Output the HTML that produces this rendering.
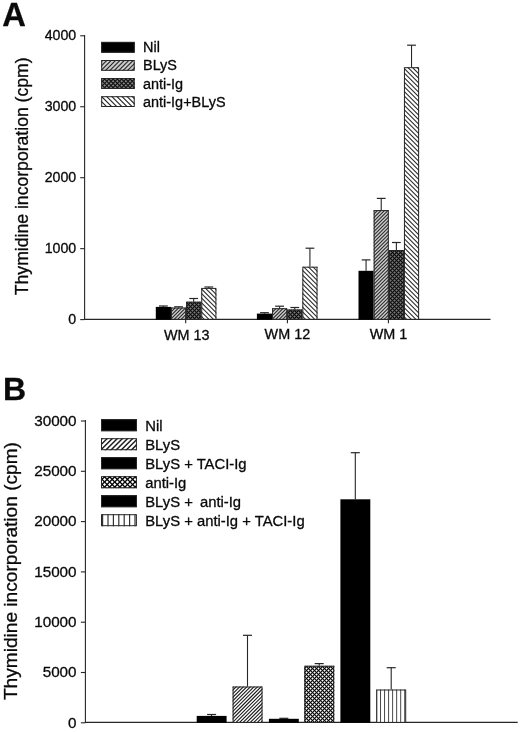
<!DOCTYPE html>
<html lang="en"><head><meta charset="utf-8"><title>Thymidine incorporation</title>
<style>html,body{margin:0;padding:0;background:#fff}svg{display:block}text{font-family:"Liberation Sans", Arial, Helvetica, sans-serif;fill:#0a0a0a;stroke:#0a0a0a;stroke-width:0.3px}</style></head><body>
<svg width="520" height="732" viewBox="0 0 520 732">
<rect width="520" height="732" fill="#fff"/>
<text x="2.2" y="25.8" font-size="32.7" font-weight="bold">A</text>
<line x1="84.6" y1="35.0" x2="84.6" y2="319.8" stroke="#262626" stroke-width="1.1"/>
<line x1="84.1" y1="319.3" x2="490.5" y2="319.3" stroke="#262626" stroke-width="1.2"/>
<line x1="80.2" y1="319.6" x2="84.6" y2="319.6" stroke="#262626" stroke-width="1.1"/>
<text x="76.2" y="324.0" font-size="14.2" text-anchor="end">0</text>
<line x1="80.2" y1="248.65" x2="84.6" y2="248.65" stroke="#262626" stroke-width="1.1"/>
<text x="76.2" y="253.05" font-size="14.2" text-anchor="end">1000</text>
<line x1="80.2" y1="177.7" x2="84.6" y2="177.7" stroke="#262626" stroke-width="1.1"/>
<text x="76.2" y="182.1" font-size="14.2" text-anchor="end">2000</text>
<line x1="80.2" y1="106.75" x2="84.6" y2="106.75" stroke="#262626" stroke-width="1.1"/>
<text x="76.2" y="111.15" font-size="14.2" text-anchor="end">3000</text>
<line x1="80.2" y1="35.8" x2="84.6" y2="35.8" stroke="#262626" stroke-width="1.1"/>
<text x="76.2" y="40.2" font-size="14.2" text-anchor="end">4000</text>
<text transform="translate(27.5,295.2) rotate(-90)" font-size="17.62">Thymidine incorporation (cpm)</text>
<rect x="101.2" y="41.9" width="33.5" height="10.8" fill="#000"/>
<rect x="101.7" y="42.4" width="32.5" height="9.8" fill="none" stroke="#262626" stroke-width="1"/>
<text x="143.0" y="51.7" font-size="14.45">Nil</text>
<svg x="101.2" y="60.0" width="33.5" height="10.8">
<rect width="33.5" height="10.8" fill="#cdcdcd"/>
<path d="M-1.8,-1L-1,-1.8M2.6,-1L-1,2.6M7.0,-1L-1,7.0M11.4,-1L-1,11.4M15.8,-1L-1,15.8M20.2,-1L-1,20.2M24.6,-1L-1,24.6M29.0,-1L-1,29.0M33.4,-1L-1,33.4M37.8,-1L-1,37.8M42.2,-1L-1,42.2M46.6,-1L-1,46.6" stroke="#2c2c2c" stroke-width="1.15" fill="none"/>
</svg>
<rect x="101.7" y="60.5" width="32.5" height="9.8" fill="none" stroke="#262626" stroke-width="1"/>
<text x="143.0" y="70.4" font-size="14.45">BLyS</text>
<svg x="101.2" y="78.1" width="33.5" height="10.8">
<rect width="33.5" height="10.8" fill="#888888"/>
<path d="M1.2,-1L-1,1.2M5.45,-1L-1,5.45M9.7,-1L-1,9.7M13.95,-1L-1,13.95M18.2,-1L-1,18.2M22.45,-1L-1,22.45M26.7,-1L-1,26.7M30.95,-1L-1,30.95M35.2,-1L-1,35.2M39.45,-1L-1,39.45M43.7,-1L-1,43.7M47.95,-1L-1,47.95" stroke="#141414" stroke-width="1.2" fill="none"/>
<path d="M-19.85,-1L-7.05,11.8M-15.6,-1L-2.8,11.8M-11.35,-1L1.45,11.8M-7.1,-1L5.7,11.8M-2.85,-1L9.95,11.8M1.4,-1L14.2,11.8M5.65,-1L18.45,11.8M9.9,-1L22.7,11.8M14.15,-1L26.95,11.8M18.4,-1L31.2,11.8M22.65,-1L35.45,11.8M26.9,-1L39.7,11.8M31.15,-1L43.95,11.8M35.4,-1L48.2,11.8" stroke="#141414" stroke-width="1.2" fill="none"/>
</svg>
<rect x="101.7" y="78.6" width="32.5" height="9.8" fill="none" stroke="#262626" stroke-width="1"/>
<text x="143.0" y="88.7" font-size="14.45">anti-Ig</text>
<svg x="101.2" y="96.2" width="33.5" height="10.8">
<rect width="33.5" height="10.8" fill="#ffffff"/>
<path d="M-21.3,-1L-8.5,11.8M-16.2,-1L-3.4,11.8M-11.1,-1L1.7,11.8M-6.0,-1L6.8,11.8M-0.9,-1L11.9,11.8M4.2,-1L17.0,11.8M9.3,-1L22.1,11.8M14.4,-1L27.2,11.8M19.5,-1L32.3,11.8M24.6,-1L37.4,11.8M29.7,-1L42.5,11.8M34.8,-1L47.6,11.8" stroke="#262626" stroke-width="1.12" fill="none"/>
</svg>
<rect x="101.7" y="96.7" width="32.5" height="9.8" fill="none" stroke="#262626" stroke-width="1"/>
<text x="143.0" y="106.6" font-size="14.45">anti-Ig+BLyS</text>
<line x1="163.38" y1="306.9" x2="163.38" y2="306.0" stroke="#262626" stroke-width="1.1"/>
<line x1="158.97" y1="306.0" x2="167.78" y2="306.0" stroke="#262626" stroke-width="1.2"/>
<rect x="155.8" y="306.9" width="15.15" height="12.8" fill="#000"/>
<line x1="178.53" y1="307.5" x2="178.53" y2="306.8" stroke="#262626" stroke-width="1.1"/>
<line x1="174.12" y1="306.8" x2="182.93" y2="306.8" stroke="#262626" stroke-width="1.2"/>
<svg x="170.95" y="307.5" width="15.15" height="11.8">
<rect width="15.15" height="11.8" fill="#cdcdcd"/>
<path d="M-1.45,-1L-1,-1.45M2.05,-1L-1,2.05M5.55,-1L-1,5.55M9.05,-1L-1,9.05M12.55,-1L-1,12.55M16.05,-1L-1,16.05M19.55,-1L-1,19.55M23.05,-1L-1,23.05M26.55,-1L-1,26.55M30.05,-1L-1,30.05" stroke="#2c2c2c" stroke-width="1.1" fill="none"/>
</svg>
<rect x="171.45" y="308.0" width="14.15" height="11.3" fill="none" stroke="#262626" stroke-width="1"/>
<line x1="193.68" y1="301.7" x2="193.68" y2="298.5" stroke="#262626" stroke-width="1.1"/>
<line x1="189.28" y1="298.5" x2="198.08" y2="298.5" stroke="#262626" stroke-width="1.2"/>
<svg x="186.1" y="301.7" width="15.15" height="17.6">
<rect width="15.15" height="17.6" fill="#7c7c7c"/>
<path d="M-1.8,-1L-1,-1.8M2.2,-1L-1,2.2M6.2,-1L-1,6.2M10.2,-1L-1,10.2M14.2,-1L-1,14.2M18.2,-1L-1,18.2M22.2,-1L-1,22.2M26.2,-1L-1,26.2M30.2,-1L-1,30.2M34.2,-1L-1,34.2M38.2,-1L-1,38.2" stroke="#0c0c0c" stroke-width="1.15" fill="none"/>
<path d="M-25.4,-1L-5.8,18.6M-21.4,-1L-1.8,18.6M-17.4,-1L2.2,18.6M-13.4,-1L6.2,18.6M-9.4,-1L10.2,18.6M-5.4,-1L14.2,18.6M-1.4,-1L18.2,18.6M2.6,-1L22.2,18.6M6.6,-1L26.2,18.6M10.6,-1L30.2,18.6M14.6,-1L34.2,18.6" stroke="#0c0c0c" stroke-width="1.15" fill="none"/>
</svg>
<rect x="186.6" y="302.2" width="14.15" height="17.1" fill="none" stroke="#262626" stroke-width="1"/>
<line x1="208.82" y1="287.9" x2="208.82" y2="287.0" stroke="#262626" stroke-width="1.1"/>
<line x1="204.42" y1="287.0" x2="213.22" y2="287.0" stroke="#262626" stroke-width="1.2"/>
<svg x="201.25" y="287.9" width="15.15" height="31.4">
<rect width="15.15" height="31.4" fill="#ffffff"/>
<path d="M-38.55,-1L-5.15,32.4M-33.95,-1L-0.55,32.4M-29.35,-1L4.05,32.4M-24.75,-1L8.65,32.4M-20.15,-1L13.25,32.4M-15.55,-1L17.85,32.4M-10.95,-1L22.45,32.4M-6.35,-1L27.05,32.4M-1.75,-1L31.65,32.4M2.85,-1L36.25,32.4M7.45,-1L40.85,32.4M12.05,-1L45.45,32.4M16.65,-1L50.05,32.4" stroke="#2a2a2a" stroke-width="1.08" fill="none"/>
</svg>
<rect x="201.75" y="288.4" width="14.15" height="30.9" fill="none" stroke="#262626" stroke-width="1"/>
<line x1="185.7" y1="319.3" x2="185.7" y2="323.3" stroke="#262626" stroke-width="1.1"/>
<text x="186.7" y="339.9" font-size="14.4" text-anchor="middle">WM 13</text>
<line x1="264.47" y1="313.6" x2="264.47" y2="312.7" stroke="#262626" stroke-width="1.1"/>
<line x1="260.07" y1="312.7" x2="268.87" y2="312.7" stroke="#262626" stroke-width="1.2"/>
<rect x="256.9" y="313.6" width="15.15" height="6.1" fill="#000"/>
<line x1="279.62" y1="308.2" x2="279.62" y2="306.2" stroke="#262626" stroke-width="1.1"/>
<line x1="275.22" y1="306.2" x2="284.02" y2="306.2" stroke="#262626" stroke-width="1.2"/>
<svg x="272.05" y="308.2" width="15.15" height="11.1">
<rect width="15.15" height="11.1" fill="#cdcdcd"/>
<path d="M-1.75,-1L-1,-1.75M1.75,-1L-1,1.75M5.25,-1L-1,5.25M8.75,-1L-1,8.75M12.25,-1L-1,12.25M15.75,-1L-1,15.75M19.25,-1L-1,19.25M22.75,-1L-1,22.75M26.25,-1L-1,26.25M29.75,-1L-1,29.75" stroke="#2c2c2c" stroke-width="1.1" fill="none"/>
</svg>
<rect x="272.55" y="308.7" width="14.15" height="10.6" fill="none" stroke="#262626" stroke-width="1"/>
<line x1="294.77" y1="309.6" x2="294.77" y2="307.5" stroke="#262626" stroke-width="1.1"/>
<line x1="290.38" y1="307.5" x2="299.17" y2="307.5" stroke="#262626" stroke-width="1.2"/>
<svg x="287.2" y="309.6" width="15.15" height="9.7">
<rect width="15.15" height="9.7" fill="#7c7c7c"/>
<path d="M1.2,-1L-1,1.2M5.2,-1L-1,5.2M9.2,-1L-1,9.2M13.2,-1L-1,13.2M17.2,-1L-1,17.2M21.2,-1L-1,21.2M25.2,-1L-1,25.2M29.2,-1L-1,29.2" stroke="#0c0c0c" stroke-width="1.15" fill="none"/>
<path d="M-18.6,-1L-6.9,10.7M-14.6,-1L-2.9,10.7M-10.6,-1L1.1,10.7M-6.6,-1L5.1,10.7M-2.6,-1L9.1,10.7M1.4,-1L13.1,10.7M5.4,-1L17.1,10.7M9.4,-1L21.1,10.7M13.4,-1L25.1,10.7M17.4,-1L29.1,10.7" stroke="#0c0c0c" stroke-width="1.15" fill="none"/>
</svg>
<rect x="287.7" y="310.1" width="14.15" height="9.2" fill="none" stroke="#262626" stroke-width="1"/>
<line x1="309.92" y1="266.7" x2="309.92" y2="248.2" stroke="#262626" stroke-width="1.1"/>
<line x1="305.52" y1="248.2" x2="314.32" y2="248.2" stroke="#262626" stroke-width="1.2"/>
<svg x="302.35" y="266.7" width="15.15" height="52.6">
<rect width="15.15" height="52.6" fill="#ffffff"/>
<path d="M-59.65,-1L-5.05,53.6M-55.05,-1L-0.45,53.6M-50.45,-1L4.15,53.6M-45.85,-1L8.75,53.6M-41.25,-1L13.35,53.6M-36.65,-1L17.95,53.6M-32.05,-1L22.55,53.6M-27.45,-1L27.15,53.6M-22.85,-1L31.75,53.6M-18.25,-1L36.35,53.6M-13.65,-1L40.95,53.6M-9.05,-1L45.55,53.6M-4.45,-1L50.15,53.6M0.15,-1L54.75,53.6M4.75,-1L59.35,53.6M9.35,-1L63.95,53.6M13.95,-1L68.55,53.6M18.55,-1L73.15,53.6" stroke="#2a2a2a" stroke-width="1.08" fill="none"/>
</svg>
<rect x="302.85" y="267.2" width="14.15" height="52.1" fill="none" stroke="#262626" stroke-width="1"/>
<line x1="287.4" y1="319.3" x2="287.4" y2="323.3" stroke="#262626" stroke-width="1.1"/>
<text x="287.4" y="338.7" font-size="14.4" text-anchor="middle">WM 12</text>
<line x1="366.07" y1="270.8" x2="366.07" y2="259.9" stroke="#262626" stroke-width="1.1"/>
<line x1="361.68" y1="259.9" x2="370.47" y2="259.9" stroke="#262626" stroke-width="1.2"/>
<rect x="358.5" y="270.8" width="15.15" height="48.9" fill="#000"/>
<line x1="381.22" y1="210.1" x2="381.22" y2="198.4" stroke="#262626" stroke-width="1.1"/>
<line x1="376.82" y1="198.4" x2="385.62" y2="198.4" stroke="#262626" stroke-width="1.2"/>
<svg x="373.65" y="210.1" width="15.15" height="109.2">
<rect width="15.15" height="109.2" fill="#cdcdcd"/>
<path d="M-1.75,-1L-1,-1.75M1.75,-1L-1,1.75M5.25,-1L-1,5.25M8.75,-1L-1,8.75M12.25,-1L-1,12.25M15.75,-1L-1,15.75M19.25,-1L-1,19.25M22.75,-1L-1,22.75M26.25,-1L-1,26.25M29.75,-1L-1,29.75M33.25,-1L-1,33.25M36.75,-1L-1,36.75M40.25,-1L-1,40.25M43.75,-1L-1,43.75M47.25,-1L-1,47.25M50.75,-1L-1,50.75M54.25,-1L-1,54.25M57.75,-1L-1,57.75M61.25,-1L-1,61.25M64.75,-1L-1,64.75M68.25,-1L-1,68.25M71.75,-1L-1,71.75M75.25,-1L-1,75.25M78.75,-1L-1,78.75M82.25,-1L-1,82.25M85.75,-1L-1,85.75M89.25,-1L-1,89.25M92.75,-1L-1,92.75M96.25,-1L-1,96.25M99.75,-1L-1,99.75M103.25,-1L-1,103.25M106.75,-1L-1,106.75M110.25,-1L-1,110.25M113.75,-1L-1,113.75M117.25,-1L-1,117.25M120.75,-1L-1,120.75M124.25,-1L-1,124.25M127.75,-1L-1,127.75" stroke="#2c2c2c" stroke-width="1.1" fill="none"/>
</svg>
<rect x="374.15" y="210.6" width="14.15" height="108.7" fill="none" stroke="#262626" stroke-width="1"/>
<line x1="396.38" y1="250.0" x2="396.38" y2="242.5" stroke="#262626" stroke-width="1.1"/>
<line x1="391.98" y1="242.5" x2="400.77" y2="242.5" stroke="#262626" stroke-width="1.2"/>
<svg x="388.8" y="250.0" width="15.15" height="69.3">
<rect width="15.15" height="69.3" fill="#7c7c7c"/>
<path d="M-0.8,-1L-1,-0.8M3.2,-1L-1,3.2M7.2,-1L-1,7.2M11.2,-1L-1,11.2M15.2,-1L-1,15.2M19.2,-1L-1,19.2M23.2,-1L-1,23.2M27.2,-1L-1,27.2M31.2,-1L-1,31.2M35.2,-1L-1,35.2M39.2,-1L-1,39.2M43.2,-1L-1,43.2M47.2,-1L-1,47.2M51.2,-1L-1,51.2M55.2,-1L-1,55.2M59.2,-1L-1,59.2M63.2,-1L-1,63.2M67.2,-1L-1,67.2M71.2,-1L-1,71.2M75.2,-1L-1,75.2M79.2,-1L-1,79.2M83.2,-1L-1,83.2M87.2,-1L-1,87.2" stroke="#0c0c0c" stroke-width="1.15" fill="none"/>
<path d="M-75.8,-1L-4.5,70.3M-71.8,-1L-0.5,70.3M-67.8,-1L3.5,70.3M-63.8,-1L7.5,70.3M-59.8,-1L11.5,70.3M-55.8,-1L15.5,70.3M-51.8,-1L19.5,70.3M-47.8,-1L23.5,70.3M-43.8,-1L27.5,70.3M-39.8,-1L31.5,70.3M-35.8,-1L35.5,70.3M-31.8,-1L39.5,70.3M-27.8,-1L43.5,70.3M-23.8,-1L47.5,70.3M-19.8,-1L51.5,70.3M-15.8,-1L55.5,70.3M-11.8,-1L59.5,70.3M-7.8,-1L63.5,70.3M-3.8,-1L67.5,70.3M0.2,-1L71.5,70.3M4.2,-1L75.5,70.3M8.2,-1L79.5,70.3M12.2,-1L83.5,70.3M16.2,-1L87.5,70.3" stroke="#0c0c0c" stroke-width="1.15" fill="none"/>
</svg>
<rect x="389.3" y="250.5" width="14.15" height="68.8" fill="none" stroke="#262626" stroke-width="1"/>
<line x1="411.52" y1="67.2" x2="411.52" y2="45.2" stroke="#262626" stroke-width="1.1"/>
<line x1="407.12" y1="45.2" x2="415.92" y2="45.2" stroke="#262626" stroke-width="1.2"/>
<svg x="403.95" y="67.2" width="15.15" height="252.1">
<rect width="15.15" height="252.1" fill="#ffffff"/>
<path d="M-259.55,-1L-5.45,253.1M-254.95,-1L-0.85,253.1M-250.35,-1L3.75,253.1M-245.75,-1L8.35,253.1M-241.15,-1L12.95,253.1M-236.55,-1L17.55,253.1M-231.95,-1L22.15,253.1M-227.35,-1L26.75,253.1M-222.75,-1L31.35,253.1M-218.15,-1L35.95,253.1M-213.55,-1L40.55,253.1M-208.95,-1L45.15,253.1M-204.35,-1L49.75,253.1M-199.75,-1L54.35,253.1M-195.15,-1L58.95,253.1M-190.55,-1L63.55,253.1M-185.95,-1L68.15,253.1M-181.35,-1L72.75,253.1M-176.75,-1L77.35,253.1M-172.15,-1L81.95,253.1M-167.55,-1L86.55,253.1M-162.95,-1L91.15,253.1M-158.35,-1L95.75,253.1M-153.75,-1L100.35,253.1M-149.15,-1L104.95,253.1M-144.55,-1L109.55,253.1M-139.95,-1L114.15,253.1M-135.35,-1L118.75,253.1M-130.75,-1L123.35,253.1M-126.15,-1L127.95,253.1M-121.55,-1L132.55,253.1M-116.95,-1L137.15,253.1M-112.35,-1L141.75,253.1M-107.75,-1L146.35,253.1M-103.15,-1L150.95,253.1M-98.55,-1L155.55,253.1M-93.95,-1L160.15,253.1M-89.35,-1L164.75,253.1M-84.75,-1L169.35,253.1M-80.15,-1L173.95,253.1M-75.55,-1L178.55,253.1M-70.95,-1L183.15,253.1M-66.35,-1L187.75,253.1M-61.75,-1L192.35,253.1M-57.15,-1L196.95,253.1M-52.55,-1L201.55,253.1M-47.95,-1L206.15,253.1M-43.35,-1L210.75,253.1M-38.75,-1L215.35,253.1M-34.15,-1L219.95,253.1M-29.55,-1L224.55,253.1M-24.95,-1L229.15,253.1M-20.35,-1L233.75,253.1M-15.75,-1L238.35,253.1M-11.15,-1L242.95,253.1M-6.55,-1L247.55,253.1M-1.95,-1L252.15,253.1M2.65,-1L256.75,253.1M7.25,-1L261.35,253.1M11.85,-1L265.95,253.1M16.45,-1L270.55,253.1" stroke="#2a2a2a" stroke-width="1.08" fill="none"/>
</svg>
<rect x="404.45" y="67.7" width="14.15" height="251.6" fill="none" stroke="#262626" stroke-width="1"/>
<line x1="388.4" y1="319.3" x2="388.4" y2="323.3" stroke="#262626" stroke-width="1.1"/>
<text x="388.5" y="339.0" font-size="14.4" text-anchor="middle">WM 1</text>
<text x="2.9" y="400.4" font-size="32.0" font-weight="bold">B</text>
<line x1="85.4" y1="420.0" x2="85.4" y2="722.9" stroke="#262626" stroke-width="1.1"/>
<line x1="84.9" y1="722.4" x2="517.7" y2="722.4" stroke="#262626" stroke-width="1.2"/>
<line x1="80.9" y1="722.8" x2="85.4" y2="722.8" stroke="#262626" stroke-width="1.1"/>
<text x="76.6" y="727.5" font-size="15.25" text-anchor="end">0</text>
<line x1="80.9" y1="672.5" x2="85.4" y2="672.5" stroke="#262626" stroke-width="1.1"/>
<text x="76.6" y="677.2" font-size="15.25" text-anchor="end">5000</text>
<line x1="80.9" y1="622.2" x2="85.4" y2="622.2" stroke="#262626" stroke-width="1.1"/>
<text x="76.6" y="626.9" font-size="15.25" text-anchor="end">10000</text>
<line x1="80.9" y1="571.9" x2="85.4" y2="571.9" stroke="#262626" stroke-width="1.1"/>
<text x="76.6" y="576.6" font-size="15.25" text-anchor="end">15000</text>
<line x1="80.9" y1="521.6" x2="85.4" y2="521.6" stroke="#262626" stroke-width="1.1"/>
<text x="76.6" y="526.3" font-size="15.25" text-anchor="end">20000</text>
<line x1="80.9" y1="471.3" x2="85.4" y2="471.3" stroke="#262626" stroke-width="1.1"/>
<text x="76.6" y="476.0" font-size="15.25" text-anchor="end">25000</text>
<line x1="80.9" y1="421.0" x2="85.4" y2="421.0" stroke="#262626" stroke-width="1.1"/>
<text x="76.6" y="425.7" font-size="15.25" text-anchor="end">30000</text>
<text transform="translate(16.8,700.1) rotate(-90)" font-size="19.12">Thymidine incorporation (cpm)</text>
<rect x="101.0" y="419.2" width="35.9" height="12.0" fill="#000"/>
<rect x="101.5" y="419.7" width="34.9" height="11.0" fill="none" stroke="#262626" stroke-width="1"/>
<text x="145.2" y="430.5" font-size="14.82">Nil</text>
<svg x="101.0" y="438.2" width="35.9" height="12.0">
<rect width="35.9" height="12.0" fill="#ffffff"/>
<path d="M-2.7,-1L-1,-2.7M2.4,-1L-1,2.4M7.5,-1L-1,7.5M12.6,-1L-1,12.6M17.7,-1L-1,17.7M22.8,-1L-1,22.8M27.9,-1L-1,27.9M33.0,-1L-1,33.0M38.1,-1L-1,38.1M43.2,-1L-1,43.2M48.3,-1L-1,48.3M53.4,-1L-1,53.4" stroke="#1e1e1e" stroke-width="1.45" fill="none"/>
</svg>
<rect x="101.5" y="438.7" width="34.9" height="11.0" fill="none" stroke="#262626" stroke-width="1"/>
<text x="145.2" y="449.55" font-size="14.82">BLyS</text>
<rect x="101.0" y="457.2" width="35.9" height="12.0" fill="#000"/>
<rect x="101.5" y="457.7" width="34.9" height="11.0" fill="none" stroke="#262626" stroke-width="1"/>
<text x="145.2" y="468.6" font-size="14.82">BLyS + TACI-Ig</text>
<svg x="101.0" y="476.2" width="35.9" height="12.0">
<rect width="35.9" height="12.0" fill="#ffffff"/>
<path d="M0.1,-1L-1,0.1M5.2,-1L-1,5.2M10.3,-1L-1,10.3M15.4,-1L-1,15.4M20.5,-1L-1,20.5M25.6,-1L-1,25.6M30.7,-1L-1,30.7M35.8,-1L-1,35.8M40.9,-1L-1,40.9M46.0,-1L-1,46.0M51.1,-1L-1,51.1" stroke="#050505" stroke-width="1.35" fill="none"/>
<path d="M-18.5,-1L-4.5,13.0M-13.4,-1L0.6,13.0M-8.3,-1L5.7,13.0M-3.2,-1L10.8,13.0M1.9,-1L15.9,13.0M7.0,-1L21.0,13.0M12.1,-1L26.1,13.0M17.2,-1L31.2,13.0M22.3,-1L36.3,13.0M27.4,-1L41.4,13.0M32.5,-1L46.5,13.0M37.6,-1L51.6,13.0" stroke="#050505" stroke-width="1.35" fill="none"/>
</svg>
<rect x="101.5" y="476.7" width="34.9" height="11.0" fill="none" stroke="#262626" stroke-width="1"/>
<text x="145.2" y="487.65" font-size="14.82">anti-Ig</text>
<rect x="101.0" y="495.2" width="35.9" height="12.0" fill="#000"/>
<rect x="101.5" y="495.7" width="34.9" height="11.0" fill="none" stroke="#262626" stroke-width="1"/>
<text x="145.2" y="506.7" font-size="14.82">BLyS + <tspan dx="3">anti-Ig</tspan></text>
<svg x="101.0" y="514.2" width="35.9" height="12.0">
<rect width="35.9" height="12.0" fill="#ffffff"/>
<path d="M1.6,-1V13.0M7.0,-1V13.0M12.4,-1V13.0M17.8,-1V13.0M23.2,-1V13.0M28.6,-1V13.0M34.0,-1V13.0" stroke="#333333" stroke-width="1.2" fill="none"/>
</svg>
<rect x="101.5" y="514.7" width="34.9" height="11.0" fill="none" stroke="#262626" stroke-width="1"/>
<text x="145.2" y="525.75" font-size="14.82">BLyS + anti-Ig + TACI-Ig</text>
<line x1="211.6" y1="715.9" x2="211.6" y2="714.5" stroke="#262626" stroke-width="1.1"/>
<line x1="207.1" y1="714.5" x2="216.1" y2="714.5" stroke="#262626" stroke-width="1.2"/>
<rect x="196.7" y="715.9" width="29.9" height="6.9" fill="#000"/>
<line x1="247.5" y1="686.5" x2="247.5" y2="635.3" stroke="#262626" stroke-width="1.1"/>
<line x1="243.0" y1="635.3" x2="252.0" y2="635.3" stroke="#262626" stroke-width="1.2"/>
<svg x="232.6" y="686.5" width="29.9" height="35.9">
<rect width="29.9" height="35.9" fill="#ffffff"/>
<path d="M-2.2,-1L-1,-2.2M1.35,-1L-1,1.35M4.9,-1L-1,4.9M8.45,-1L-1,8.45M12.0,-1L-1,12.0M15.55,-1L-1,15.55M19.1,-1L-1,19.1M22.65,-1L-1,22.65M26.2,-1L-1,26.2M29.75,-1L-1,29.75M33.3,-1L-1,33.3M36.85,-1L-1,36.85M40.4,-1L-1,40.4M43.95,-1L-1,43.95M47.5,-1L-1,47.5M51.05,-1L-1,51.05M54.6,-1L-1,54.6M58.15,-1L-1,58.15M61.7,-1L-1,61.7M65.25,-1L-1,65.25M68.8,-1L-1,68.8" stroke="#1e1e1e" stroke-width="1.15" fill="none"/>
</svg>
<rect x="233.1" y="687.0" width="28.9" height="35.4" fill="none" stroke="#262626" stroke-width="1"/>
<line x1="283.8" y1="718.8" x2="283.8" y2="718.3" stroke="#262626" stroke-width="1.1"/>
<line x1="279.3" y1="718.3" x2="288.3" y2="718.3" stroke="#262626" stroke-width="1.2"/>
<rect x="268.9" y="718.8" width="29.9" height="4.0" fill="#000"/>
<line x1="319.2" y1="665.8" x2="319.2" y2="663.6" stroke="#262626" stroke-width="1.1"/>
<line x1="314.7" y1="663.6" x2="323.7" y2="663.6" stroke="#262626" stroke-width="1.2"/>
<svg x="304.3" y="665.8" width="29.9" height="56.6">
<rect width="29.9" height="56.6" fill="#ffffff"/>
<path d="M-0.1,-1L-1,-0.1M3.9,-1L-1,3.9M7.9,-1L-1,7.9M11.9,-1L-1,11.9M15.9,-1L-1,15.9M19.9,-1L-1,19.9M23.9,-1L-1,23.9M27.9,-1L-1,27.9M31.9,-1L-1,31.9M35.9,-1L-1,35.9M39.9,-1L-1,39.9M43.9,-1L-1,43.9M47.9,-1L-1,47.9M51.9,-1L-1,51.9M55.9,-1L-1,55.9M59.9,-1L-1,59.9M63.9,-1L-1,63.9M67.9,-1L-1,67.9M71.9,-1L-1,71.9M75.9,-1L-1,75.9M79.9,-1L-1,79.9M83.9,-1L-1,83.9M87.9,-1L-1,87.9M91.9,-1L-1,91.9" stroke="#050505" stroke-width="1.08" fill="none"/>
<path d="M-63.5,-1L-4.9,57.6M-59.5,-1L-0.9,57.6M-55.5,-1L3.1,57.6M-51.5,-1L7.1,57.6M-47.5,-1L11.1,57.6M-43.5,-1L15.1,57.6M-39.5,-1L19.1,57.6M-35.5,-1L23.1,57.6M-31.5,-1L27.1,57.6M-27.5,-1L31.1,57.6M-23.5,-1L35.1,57.6M-19.5,-1L39.1,57.6M-15.5,-1L43.1,57.6M-11.5,-1L47.1,57.6M-7.5,-1L51.1,57.6M-3.5,-1L55.1,57.6M0.5,-1L59.1,57.6M4.5,-1L63.1,57.6M8.5,-1L67.1,57.6M12.5,-1L71.1,57.6M16.5,-1L75.1,57.6M20.5,-1L79.1,57.6M24.5,-1L83.1,57.6M28.5,-1L87.1,57.6M32.5,-1L91.1,57.6" stroke="#050505" stroke-width="1.08" fill="none"/>
</svg>
<rect x="304.8" y="666.3" width="28.9" height="56.1" fill="none" stroke="#262626" stroke-width="1"/>
<line x1="355.3" y1="499.3" x2="355.3" y2="452.7" stroke="#262626" stroke-width="1.1"/>
<line x1="350.8" y1="452.7" x2="359.8" y2="452.7" stroke="#262626" stroke-width="1.2"/>
<rect x="340.4" y="499.3" width="29.9" height="223.5" fill="#000"/>
<line x1="391.2" y1="689.5" x2="391.2" y2="667.7" stroke="#262626" stroke-width="1.1"/>
<line x1="386.7" y1="667.7" x2="395.7" y2="667.7" stroke="#262626" stroke-width="1.2"/>
<svg x="376.3" y="689.5" width="29.9" height="32.9">
<rect width="29.9" height="32.9" fill="#ffffff"/>
<path d="M0.2,-1V33.9M4.23,-1V33.9M8.26,-1V33.9M12.29,-1V33.9M16.32,-1V33.9M20.35,-1V33.9M24.38,-1V33.9M28.41,-1V33.9" stroke="#333333" stroke-width="0.9" fill="none"/>
</svg>
<rect x="376.8" y="690.0" width="28.9" height="32.4" fill="none" stroke="#262626" stroke-width="1"/>
</svg></body></html>
